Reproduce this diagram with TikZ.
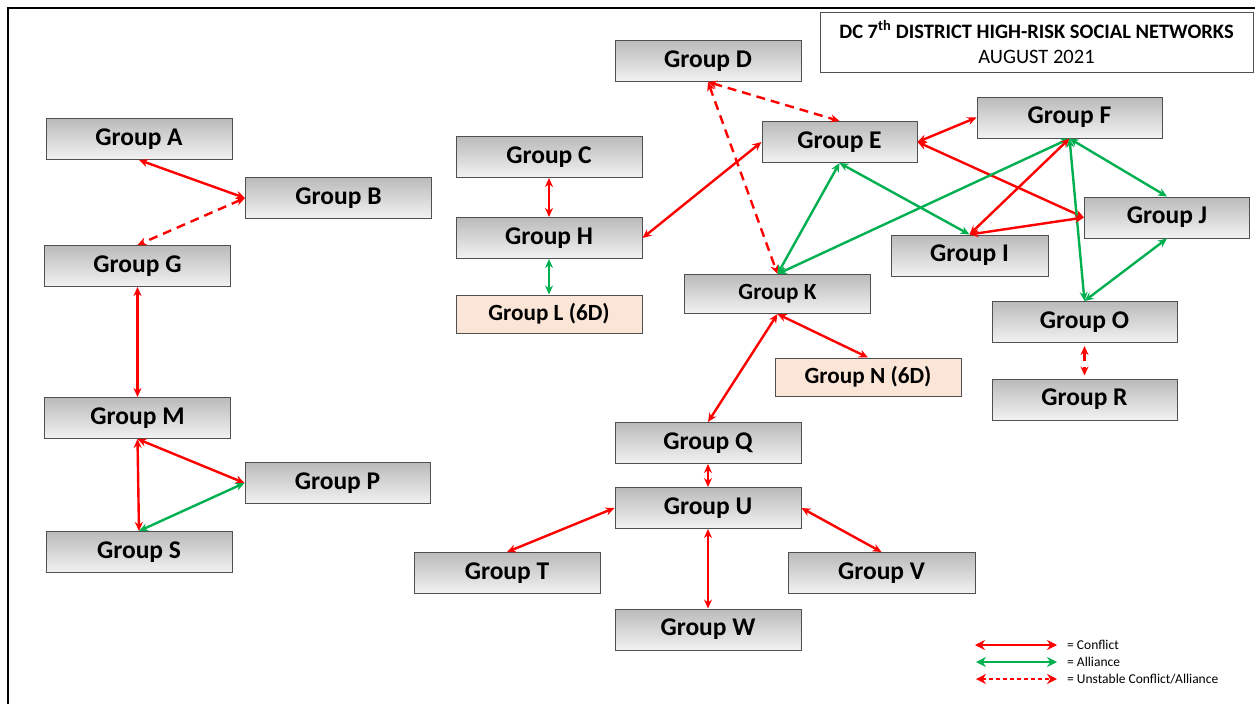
\documentclass[tikz,border=0pt]{standalone}
\usepackage{fontspec}
\setmainfont{Carlito}
\usetikzlibrary{arrows.meta}

\definecolor{conflictred}{RGB}{255,0,0}
\definecolor{alliancegreen}{RGB}{0,176,80}
\definecolor{peach}{RGB}{251,229,214}
\definecolor{boxline}{RGB}{80,80,80}

\tikzstyle{group} = [draw = boxline, line width = 1pt, top color = black!27, bottom color = black!5, minimum width = 186pt, minimum height = 41pt, inner sep = 0pt, font = \fontsize{25.5}{29}\selectfont\bfseries]
\tikzstyle{smallgroup} = [group, minimum height = 39pt, font = \fontsize{23.2}{27}\selectfont\bfseries]
\tikzstyle{sixd} = [draw = boxline, line width = 1pt, fill = peach, minimum width = 186pt, minimum height = 38pt, inner sep = 0pt, font = \fontsize{23.2}{27}\selectfont\bfseries]
\tikzstyle{conflict} = [{Stealth[length = 9pt, width = 8pt]}-{Stealth[length = 9pt, width = 8pt]}, conflictred, line width = 2.4pt]
\tikzstyle{alliance} = [conflict, alliancegreen]
\tikzstyle{unstable} = [conflict, dash pattern = on 9pt off 6pt]
\tikzstyle{legendarrow} = [{Stealth[length = 10pt, width = 10pt]}-{Stealth[length = 10pt, width = 10pt]}, line width = 1.2pt]
\tikzstyle{legendtext} = [anchor = west, inner sep = 0pt, font = \fontsize{13.5}{15}\selectfont]

\begin{document}
\begin{tikzpicture}[x = 1pt, y = -1pt]
		\useasboundingbox (0, 0) rectangle (1255, 704);
		\draw [line width = 2pt] (1255, 8) -- (8, 8) -- (8, 704);

		% title
		\node [draw = boxline, line width = 1pt, fill = white, minimum width = 433pt, minimum height = 60pt, align = center, font = \fontsize{20.5}{25}\selectfont] at (1036.5, 42) (title) {\textbf{DC 7\textsuperscript{th} DISTRICT HIGH-RISK SOCIAL NETWORKS}\\AUGUST 2021};

		% left column
		\node [group] at (139, 139) (A) {Group A};
		\node [group] at (338.5, 198) (B) {Group B};
		\node [group] at (137.5, 266) (G) {Group G};
		\node [group] at (137.5, 418) (M) {Group M};
		\node [group, minimum width = 185pt] at (337.5, 483) (P) {Group P};
		\node [group] at (139, 552) (S) {Group S};

		% middle
		\node [group] at (549, 157) (C) {Group C};
		\node [group] at (549, 238) (H) {Group H};
		\node [sixd] at (549, 314) (L) {Group L (6D)};
		\node [group] at (708, 61) (D) {Group D};
		\node [smallgroup] at (777.5, 294) (K) {Group K};
		\node [sixd] at (868, 377) (N) {Group N (6D)};
		\node [group] at (708, 443) (Q) {Group Q};
		\node [group] at (708, 508) (U) {Group U};
		\node [group] at (507, 573) (T) {Group T};
		\node [group, minimum width = 187pt] at (881.5, 573) (V) {Group V};
		\node [group] at (708, 629.5) (W) {Group W};

		% right
		\node [group, minimum width = 155pt] at (839.5, 142) (E) {Group E};
		\node [group, minimum width = 185pt] at (1069.5, 117.5) (F) {Group F};
		\node [group, minimum width = 157pt] at (969.5, 255.5) (I) {Group I};
		\node [group, minimum width = 165pt] at (1167, 217.5) (J) {Group J};
		\node [group, minimum width = 185pt] at (1084.5, 322) (O) {Group O};
		\node [group, minimum width = 185pt] at (1084.5, 399.5) (R) {Group R};

		\draw [conflict] (A.south) -- (B.west);
		\draw [unstable] (B.west) -- (G.north);
		\draw [conflict] (G.south) -- (M.north);
		\draw [conflict] (M.south) -- (P.west);
		\draw [conflict] (M.south) -- (S.north);
		\draw [alliance] (S.north) -- (P.west);

		\draw [conflict] (C.south) -- (H.north);
		\draw [alliance] (H.south) -- (L.north);
		\draw [conflict] (H.east) -- (E.west);
		\draw [unstable] (D.south) -- (E.north);
		\draw [unstable] (D.south) -- (K.north);

		\draw [conflict] (E.east) -- (F.west);
		\draw [conflict] (E.east) -- (J.west);
		\draw [alliance] (E.south) -- (I.north);
		\draw [alliance] (E.south) -- (K.north);
		\draw [alliance] (F.south) -- (K.north);
		\draw [conflict] (F.south) -- (I.north);
		\draw [alliance] (F.south) -- (J.north);
		\draw [alliance] (F.south) -- (O.north);
		\draw [conflict] (I.north) -- (J.west);
		\draw [alliance] (J.south) -- (O.north);
		\draw [unstable, shorten <= 3pt, shorten >= 3pt] (O.south) -- (R.north);

		\draw [conflict] (K.south) -- (N.north);
		\draw [conflict] (K.south) -- (Q.north);
		\draw [conflict] (Q.south) -- (U.north);
		\draw [conflict] (U.west) -- (T.north);
		\draw [conflict] (U.east) -- (V.north);
		\draw [conflict] (U.south) -- (W.north);

		% legend
		\coordinate (c1) at (975, 645);
		\coordinate (c2) at (1057, 645);
		\coordinate (a1) at (976, 662);
		\coordinate (a2) at (1057, 662);
		\coordinate (u1) at (976, 679);
		\coordinate (u2) at (1057, 679);
		\draw [legendarrow, conflictred] (c1) -- (c2);
		\draw [legendarrow, alliancegreen] (a1) -- (a2);
		\draw [legendarrow, conflictred, dash pattern = on 4pt off 3pt] (u1) -- (u2);
		\node [legendtext] at (1067, 645) (lc) {= Conflict};
		\node [legendtext] at (1067, 662) (la) {= Alliance};
		\node [legendtext] at (1067, 679) (lu) {= Unstable Conflict/Alliance};
	\end{tikzpicture}
\end{document}
